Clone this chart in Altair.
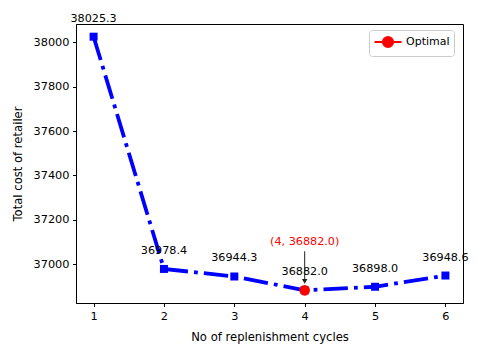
import altair as alt
import pandas as pd

cycles = [1, 2, 3, 4, 5, 6]
costs = [38025.3, 36978.4, 36944.3, 36882.0, 36898.0, 36948.6]
opt_cycle = [4]
opt_cost = [36882.0]
opt_name = ["Optimal"]
x_ticks = [1, 2, 3, 4, 5, 6]
y_ticks = [37000, 37200, 37400, 37600, 37800, 38000]

df = pd.DataFrame({"cycle": cycles, "cost": costs})
df["label"] = [f"{v:.1f}" for v in costs]
opt = pd.DataFrame({"cycle": opt_cycle, "cost": opt_cost, "series": opt_name})
opt["note"] = [f"({c}, {v:.1f})" for c, v in zip(opt_cycle, opt_cost)]

FONT = "DejaVu Sans"
xs = alt.Scale(domain=[0.75, 6.25], nice=False, zero=False)
ys = alt.Scale(domain=[36824.8, 38082.5], nice=False, zero=False)

X = alt.X("cycle:Q", scale=xs, axis=alt.Axis(values=x_ticks, format="d", title="No of replenishment cycles",
                                             titleY=34, titleBaseline="middle"))
Y = alt.Y("cost:Q", scale=ys, axis=alt.Axis(values=y_ticks, format="d", title="Total cost of retailer",
                                            titleX=-58, titleBaseline="middle"))

base = alt.Chart(df).encode(x=X, y=Y)

line = base.mark_line(color="blue", strokeWidth=3.8, strokeDash=[24.4, 6.1, 3.8, 6.1], strokeCap="butt")
squares = base.mark_point(shape="square", filled=True, size=64, color="blue", opacity=1)
labels = base.mark_text(dy=-18, fontSize=11.2, font=FONT, color="black", baseline="middle").encode(text="label:N")

obase = alt.Chart(opt).encode(x=alt.X("cycle:Q", scale=xs), y=alt.Y("cost:Q", scale=ys))

legend_path = "M-2,0L2,0M-0.75,0A0.75,0.75,0,1,0,0.75,0A0.75,0.75,0,1,0,-0.75,0Z"
opt_point = obase.mark_point(filled=True, size=113, opacity=1, shape="circle").encode(
    color=alt.Color("series:N", scale=alt.Scale(domain=opt_name, range=["red"]),
                    legend=alt.Legend(title=None, orient="none", legendX=293, legendY=6,
                                      symbolType=legend_path, symbolSize=182,
                                      symbolStrokeColor="red", symbolStrokeWidth=2,
                                      symbolOffset=7, labelOffset=10,
                                      labelFontSize=11, labelFont=FONT, labelColor="black",
                                      padding=4, strokeColor="#cccccc", cornerRadius=3,
                                      fillColor="white"))
)
arrow = obase.mark_rule(color="#222222", strokeWidth=1, yOffset=-39, y2Offset=-9).encode(y2="cost:Q")
head = obase.mark_point(shape="triangle-down", filled=True, size=30, color="#222222", opacity=1, yOffset=-9)
note = obase.mark_text(dy=-48, fontSize=11.2, font=FONT, color="red", baseline="middle").encode(text="note:N")

chart = alt.layer(line, squares, opt_point, labels, arrow, head, note).properties(
    width=387, height=279,
    autosize=alt.AutoSizeParams(type="none"),
    padding={"left": 68, "top": 16, "right": 9, "bottom": 41},
).configure_view(stroke="black", strokeWidth=1).configure_axis(
    grid=False, domainColor="black", tickColor="black", tickSize=3.5, labelColor="black",
    labelFont=FONT, labelFontSize=11.3, titleFont=FONT, titleFontSize=11.6, titleColor="black",
    titleFontWeight="normal", labelPadding=3.5,
).configure_axisX(labelPadding=4)

chart.save("out.html", embed_options={"renderer": "svg", "actions": False})
